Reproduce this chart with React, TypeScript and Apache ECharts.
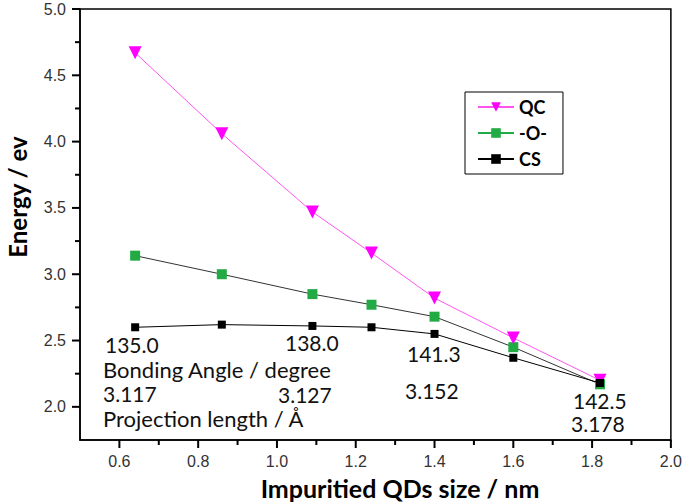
import React, { useEffect, useRef } from "react";
import * as echarts from "echarts";

const sizes = [0.64, 0.86, 1.09, 1.24, 1.4, 1.6, 1.82];
const qcValues = [4.67, 4.06, 3.47, 3.16, 2.82, 2.52, 2.2];
const oValues = [3.14, 3.0, 2.85, 2.77, 2.68, 2.45, 2.17];
const csValues = [2.6, 2.62, 2.61, 2.6, 2.55, 2.37, 2.18];
const seriesNames = ["QC", "-O-", "CS"];
const xMajorTicks = [0.6, 0.8, 1.0, 1.2, 1.4, 1.6, 1.8, 2.0];
const xMinorTicks = [0.7, 0.9, 1.1, 1.3, 1.5, 1.7, 1.9];
const yMajorTicks = [2.0, 2.5, 3.0, 3.5, 4.0, 4.5, 5.0];
const yMinorTicks = [2.25, 2.75, 3.25, 3.75, 4.25, 4.75];
const xTitle = "Impuritied QDs size / nm";
const yTitle = "Energy / ev";
const annotationTexts = [
  "135.0",
  "Bonding Angle / degree",
  "3.117",
  "Projection length / Å",
  "138.0",
  "3.127",
  "141.3",
  "3.152",
  "142.5",
  "3.178",
];

const annotationPos: [number, number][] = [
  [105, 344],
  [103, 369],
  [103, 393],
  [103, 418],
  [285, 342],
  [278, 394],
  [407, 353],
  [405, 390],
  [573, 400],
  [571, 423],
];

export default function App() {
  const ref = useRef<HTMLDivElement>(null);
  useEffect(() => {
    document.body.style.margin = "0";
    if (!ref.current) return;
    const chart = echarts.init(ref.current, null, { renderer: "svg" });
    const annFont = "Lato, 'Open Sans', sans-serif";
    const tickFont = "'Liberation Sans', Arial, sans-serif";
    const pts = (vals: number[]) => sizes.map((s, i) => [s, vals[i]]);
    const xMin = 0.5, xMax = 2.0, yMin = 1.75, yMax = 5.0;

    const lineStyle = { color: "#000", width: 1.5 };
    const labelStyle = { fontFamily: tickFont, fontSize: 16, color: "#333" };

    chart.setOption({
      animation: false,
      backgroundColor: "#fff",
      grid: {
        left: 80,
        top: 9,
        right: 14,
        bottom: 64,
        show: true,
        borderColor: "#000",
        borderWidth: 1.5,
      },
      xAxis: {
        type: "value",
        min: xMin,
        max: xMax,
        splitLine: { show: false },
        axisLine: { show: true, lineStyle },
        axisTick: { show: false },
        axisLabel: {
          ...labelStyle,
          customValues: xMajorTicks,
          margin: 13,
          formatter: (v: number) => v.toFixed(1),
        },
      },
      yAxis: {
        type: "value",
        min: yMin,
        max: yMax,
        splitLine: { show: false },
        axisLine: { show: true, lineStyle },
        axisTick: { show: false },
        axisLabel: {
          ...labelStyle,
          customValues: yMajorTicks,
          margin: 14,
          formatter: (v: number) => v.toFixed(1),
        },
      },
      legend: {
        orient: "vertical",
        left: 465,
        top: 92,
        width: 100,
        padding: [6, 16, 6, 12],
        itemGap: 8,
        itemWidth: 36,
        itemHeight: 12,
        borderColor: "#000",
        borderWidth: 1,
        backgroundColor: "#fff",
        textStyle: {
          fontFamily: annFont,
          fontWeight: "bold",
          fontSize: 18,
          color: "#000",
        },
        data: [
          { name: seriesNames[0] },
          {
            name: seriesNames[1],
            itemStyle: { color: "#22aa44" },
            lineStyle: { color: "#22aa44" },
          },
          { name: seriesNames[2] },
        ],
      },
      series: [
        {
          name: seriesNames[0],
          type: "line",
          data: pts(qcValues),
          symbol: "triangle",
          symbolRotate: 180,
          symbolSize: 13,
          itemStyle: { color: "#ff00ff" },
          lineStyle: { color: "#ff55ee", width: 1 },
          z: 3,
        },
        {
          name: seriesNames[1],
          type: "line",
          data: pts(oValues),
          symbol: "rect",
          symbolSize: 10,
          itemStyle: { color: "#22aa44" },
          lineStyle: { color: "#333", width: 1 },
          z: 2,
        },
        {
          name: seriesNames[2],
          type: "line",
          data: pts(csValues),
          symbol: "rect",
          symbolSize: 8,
          itemStyle: { color: "#000" },
          lineStyle: { color: "#000", width: 1 },
          z: 4,
        },
      ],
    });

    // tick marks positioned through the chart's own scales
    const tickLines: any[] = [];
    const addX = (vals: number[], len: number) =>
      vals.forEach((v) => {
        const p = chart.convertToPixel({ gridIndex: 0 }, [v, yMin]) as number[];
        tickLines.push({
          type: "line",
          shape: { x1: p[0], y1: p[1], x2: p[0], y2: p[1] + len },
          style: { stroke: "#000", lineWidth: 2 },
          z: 20,
        });
      });
    const addY = (vals: number[], len: number) =>
      vals.forEach((v) => {
        const p = chart.convertToPixel({ gridIndex: 0 }, [xMin, v]) as number[];
        tickLines.push({
          type: "line",
          shape: { x1: p[0], y1: p[1], x2: p[0] - len, y2: p[1] },
          style: { stroke: "#000", lineWidth: 2 },
          z: 20,
        });
      });
    addX(xMajorTicks, 8);
    addX(xMinorTicks, 5);
    addY(yMajorTicks, 8);
    addY(yMinorTicks, 5);

    chart.setOption({
      graphic: [
        ...tickLines,
        ...annotationTexts.map((t, i) => ({
          type: "text",
          x: annotationPos[i][0],
          y: annotationPos[i][1],
          style: {
            text: t,
            fontFamily: annFont,
            fontSize: t.length > 6 ? 22 : 21,
            fill: "#111",
            verticalAlign: "middle",
          },
          z: 10,
        })),
        {
          type: "text",
          x: 400,
          y: 488,
          style: {
            text: xTitle,
            fontFamily: annFont,
            fontWeight: "bold",
            fontSize: 25,
            fill: "#000",
            align: "center",
            verticalAlign: "middle",
          },
        },
        {
          type: "text",
          x: 17,
          y: 197,
          rotation: Math.PI / 2,
          style: {
            text: yTitle,
            fontFamily: annFont,
            fontWeight: "bold",
            fontSize: 24,
            fill: "#000",
            align: "center",
            verticalAlign: "middle",
          },
        },
      ],
    });
    return () => chart.dispose();
  }, []);
  return <div ref={ref} style={{ width: 685, height: 504 }} />;
}
